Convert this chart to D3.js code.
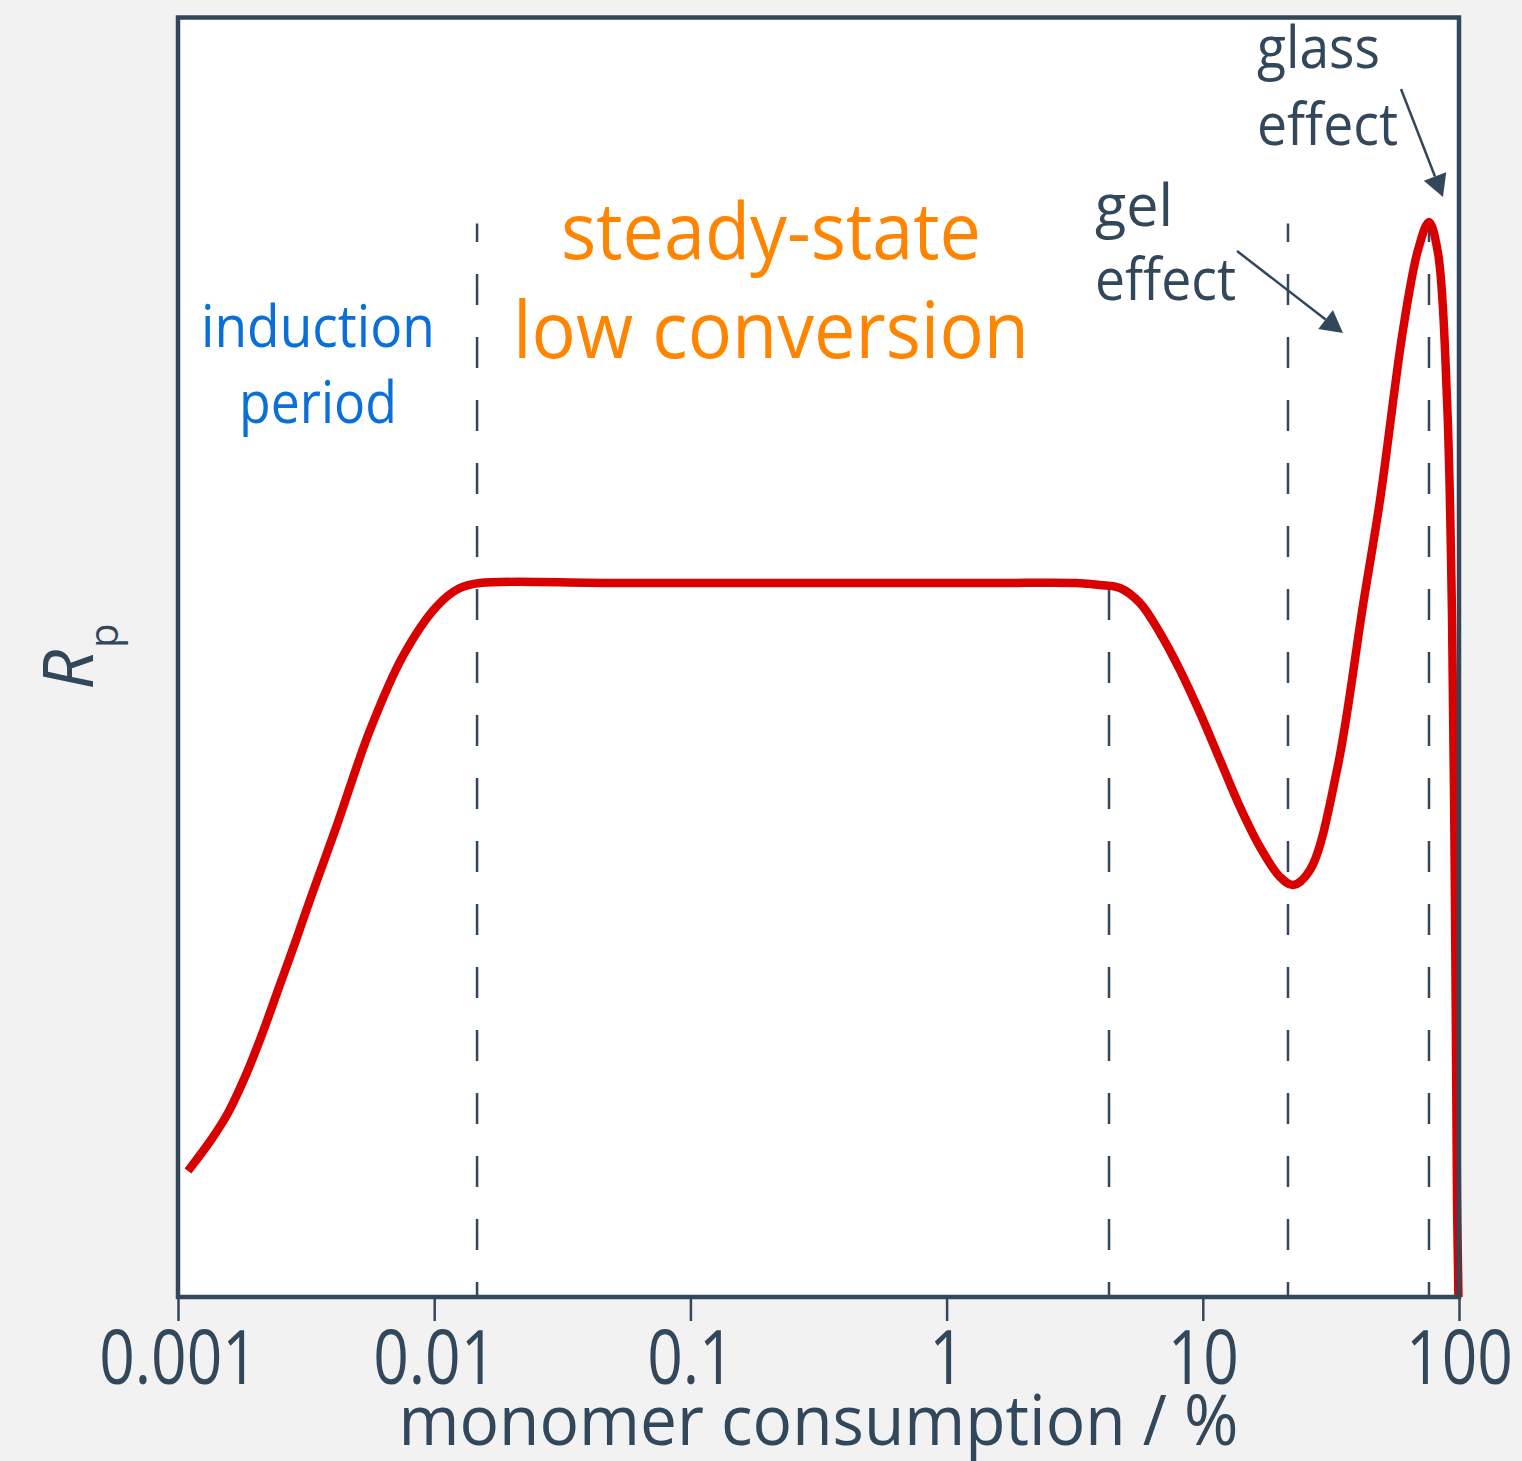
<!DOCTYPE html>
<html><head><meta charset="utf-8">
<script src="https://cdn.jsdelivr.net/npm/d3@7"></script>
<style>
html,body{margin:0;padding:0;background:#f2f2f2;}
svg{display:block;}
text{font-family:"Open Sans","Noto Sans",sans-serif;}
</style></head><body>
<svg id="chart" width="1522" height="1461"></svg>
<script>
// ---- data ----
const conversion = [0.001094,0.001345,0.001567,0.001826,0.002109,0.002457,0.002862,0.003275,0.004174,0.005616,0.007553,0.01025,0.01260,0.01509,
  0.05,0.3,1.5,3.2,
  3.968,4.752,5.685,6.806,8.147,9.752,11.67,13.97,16.72,20.01,22.49,26.21,33.41,42.21,49.18,60.45,69.18,76.36,82.79,89.79,93.91,96.47,98.22,99.5];
const rate = [9.85,12.27,14.38,17.19,20.32,23.99,27.67,31.03,36.89,44.31,50.10,54.00,55.41,55.80,
  55.80,55.80,55.80,55.80,
  55.65,55.41,54.24,51.90,49.00,45.64,41.97,38.30,35.17,32.83,32.20,33.37,41.19,54.08,62.29,75.58,81.83,84.02,81.59,70.11,53.22,30.48,7.74,0];
const xTickValues = [0.001,0.01,0.1,1,10,100];
const xTickLabels = ["0.001","0.01","0.1","1","10","100"];
const boundaryX = [0.0147, 4.305, 21.5, 76.36];
const boundaryTop = [83.9, 55.8, 83.9, 83.9];
const arrowFromX = [59.37, 13.6];
const arrowFromY = [94.41, 81.75];
const arrowToX = [86.6, 35.26];
const arrowToY = [85.97, 75.34];

// ---- layout ----
const W = 1522, H = 1461;
const L = 178, R = 1459, T = 17.5, B = 1297;
const dark = "#33475b", red = "#d90000", blue = "#0a6fd8", orange = "#ff8400";

const svg = d3.select("#chart");
svg.append("rect").attr("x",0).attr("y",0).attr("width",W).attr("height",H).attr("fill","#f2f2f2");

const x = d3.scaleLog().domain([0.001,100]).range([L,R]);
const y = d3.scaleLinear().domain([0,100]).range([B,T]);

svg.append("rect").attr("x",L).attr("y",T).attr("width",R-L).attr("height",B-T).attr("fill","#ffffff");

// dashed boundaries
svg.append("g").selectAll("line").data(boundaryX).join("line")
  .attr("x1",d=>x(d)).attr("x2",d=>x(d))
  .attr("y1",B).attr("y2",(d,i)=>y(boundaryTop[i]))
  .attr("stroke",dark).attr("stroke-width",2.5)
  .attr("stroke-dasharray","31,32").attr("stroke-dashoffset",16);

// curve
const pts = conversion.map((c,i)=>[c,rate[i]]);
const line = d3.line().x(d=>x(d[0])).y(d=>y(d[1])).curve(d3.curveCatmullRom.alpha(0.5));
svg.append("path").datum(pts).attr("d",line)
  .attr("fill","none").attr("stroke",red).attr("stroke-width",8.5)
  .attr("stroke-linejoin","round");

// axis
const axis = d3.axisBottom(x).tickValues(xTickValues).tickFormat((d,i)=>xTickLabels[i]).tickSize(24).tickPadding(0);
const gx = svg.append("g").attr("transform",`translate(0,${B})`).call(axis);
gx.select(".domain").remove();
gx.selectAll(".tick line").attr("stroke",dark).attr("stroke-width",2.5);
gx.selectAll(".tick text").attr("fill",dark).attr("font-size",75).attr("dy",0).attr("y",87)
  .attr("font-family","'Open Sans','Noto Sans',sans-serif")
  .each(function(){
    const w = this.getComputedTextLength();
    d3.select(this).attr("textLength", w*0.83).attr("lengthAdjust","spacingAndGlyphs");
  });

// frame
svg.append("rect").attr("x",L).attr("y",T).attr("width",R-L).attr("height",B-T)
  .attr("fill","none").attr("stroke",dark).attr("stroke-width",4.5);

// axis title
svg.append("text").attr("x",(L+R)/2).attr("y",1445).attr("text-anchor","middle")
  .attr("font-size",69).attr("fill",dark)
  .attr("textLength",840).attr("lengthAdjust","spacingAndGlyphs")
  .text("monomer consumption / %");

// y label R_p
const yl = svg.append("text").attr("transform","translate(93,690) rotate(-90)").attr("fill",dark);
yl.append("tspan").attr("font-size",70).attr("font-style","italic").text("R");
yl.append("tspan").attr("font-size",40).attr("dy",25).attr("dx",2).text("p");

// region labels
function label(txt,cx,by,size,color,len,anchor){
  svg.append("text").attr("x",cx).attr("y",by).attr("text-anchor",anchor||"middle")
    .attr("font-size",size).attr("fill",color)
    .attr("textLength",len).attr("lengthAdjust","spacingAndGlyphs").text(txt);
}
label("induction",318,347,58,blue,234);
label("period",318,423,58,blue,158);
label("steady-state",771,259,78,orange,420);
label("low conversion",771,358,78,orange,516);
label("glass",1257,68,58,dark,123,"start");
label("effect",1257,145,58,dark,141,"start");
label("gel",1095,226,58,dark,78,"start");
label("effect",1095,300,58,dark,141,"start");

// arrows
arrowFromX.forEach((fx,i)=>{
  const x1=x(fx), y1=y(arrowFromY[i]), x2=x(arrowToX[i]), y2=y(arrowToY[i]);
  const a=Math.atan2(y2-y1,x2-x1), hl=22, hw=12;
  const bx=x2-hl*Math.cos(a), by=y2-hl*Math.sin(a);
  svg.append("line").attr("x1",x1).attr("y1",y1).attr("x2",bx).attr("y2",by)
    .attr("stroke",dark).attr("stroke-width",2.5);
  const px=-Math.sin(a), py=Math.cos(a);
  svg.append("path").attr("d",`M${x2},${y2}L${bx+hw*px},${by+hw*py}L${bx-hw*px},${by-hw*py}Z`).attr("fill",dark);
});
</script>
</body></html>
